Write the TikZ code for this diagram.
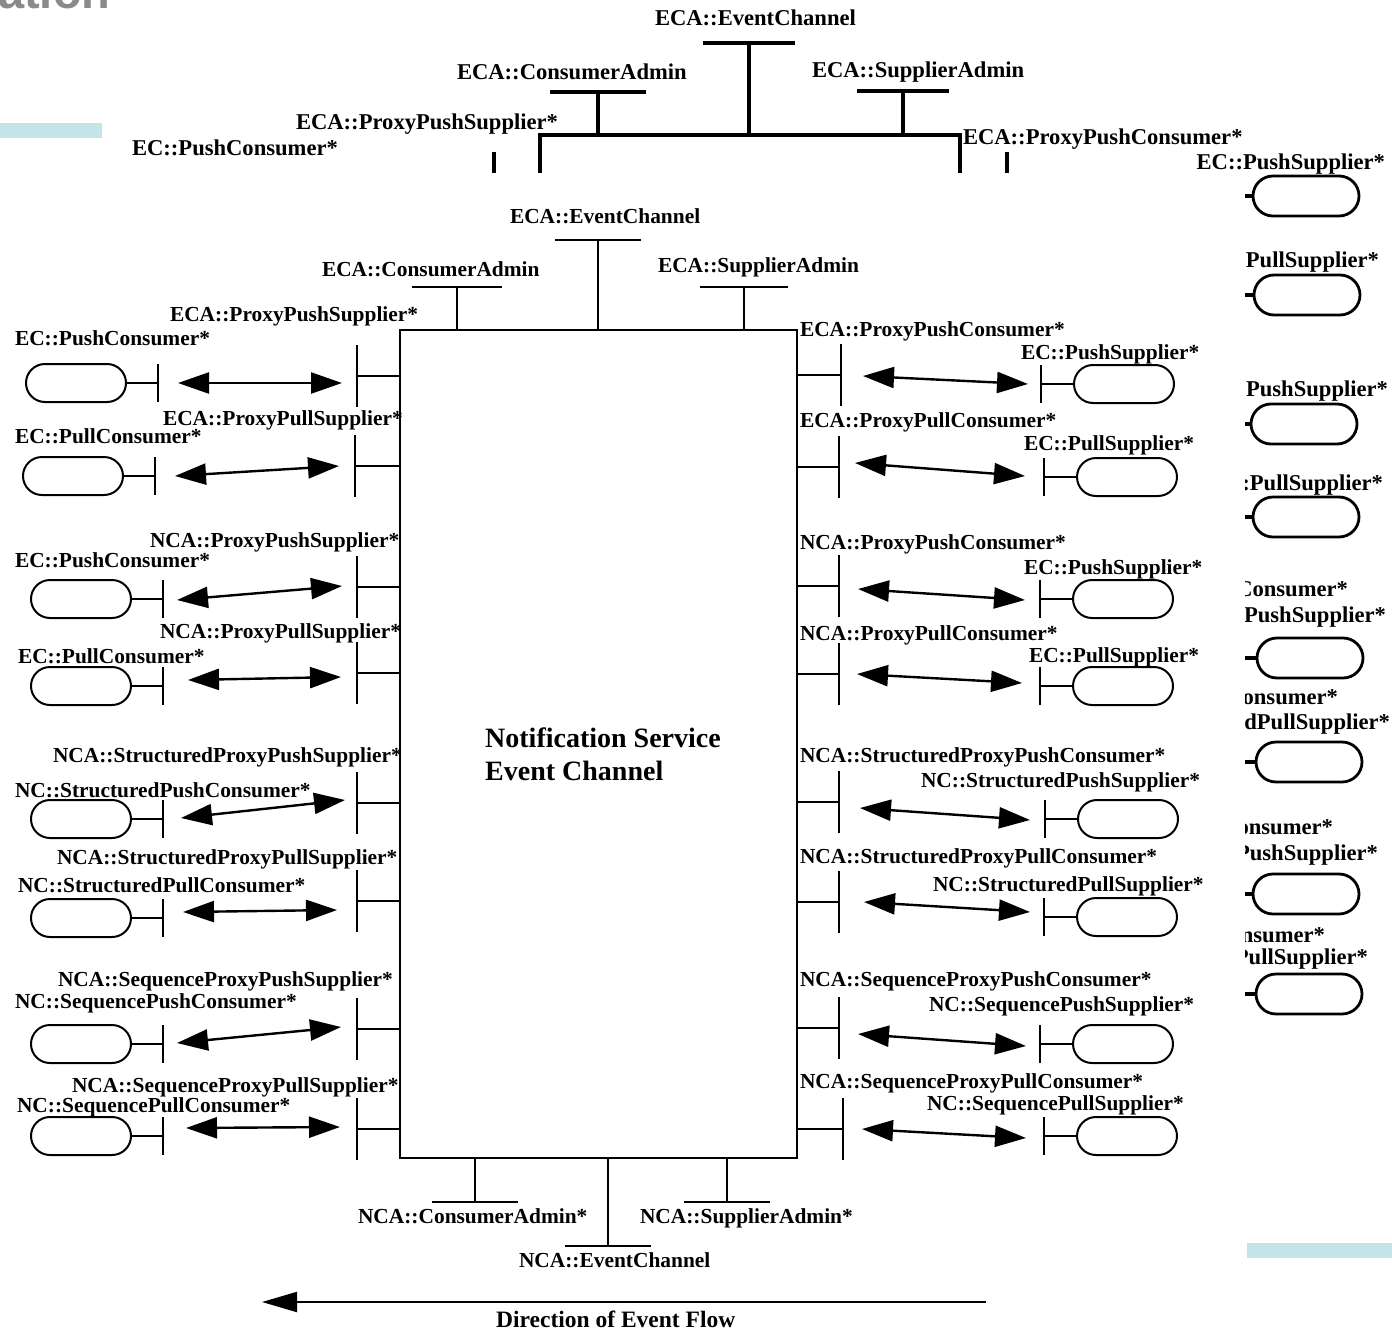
\documentclass[tikz,border=0pt]{standalone}
\usepackage{fontspec}
\setmainfont{Liberation Serif}
\newfontfamily\slidesans{Liberation Sans}
\usetikzlibrary{arrows.meta,shapes.misc}
\definecolor{slidecyan}{HTML}{C4E5E8}
\definecolor{slidegray}{HTML}{8A8A8A}
\newcommand\lblfont{\fontsize{21.4}{25}\selectfont\bfseries}
\newcommand\toplblfont{\fontsize{22.6}{27}\selectfont\bfseries}
\tikzset{
  lbl/.style={inner sep=0pt, outer sep=0pt, font=\lblfont, anchor=base west},
  toplbl/.style={inner sep=0pt, outer sep=0pt, font=\toplblfont, anchor=base west},
  toplblr/.style={toplbl, anchor=base east},
  link/.style={line width=2pt},
  toplink/.style={line width=3.2pt},
  capsule/.style={draw, rounded rectangle, line width=2pt, minimum width=100pt,
    minimum height=38pt, inner sep=0pt, outer sep=0pt},
  bigcapsule/.style={capsule, line width=2.8pt, minimum width=106pt, minimum height=40pt},
  flow/.style={line width=2.4pt,
    {Triangle[length=31pt,width=21pt]}-{Triangle[length=31pt,width=21pt]}},
}
\begin{document}
\begin{tikzpicture}[x=1pt,y=-1pt]
\useasboundingbox (0,0) rectangle (1392,1330);
\clip (0,0) rectangle (1392,1330);

% slide decorations
\node[anchor=base west, inner sep=0pt, text=slidegray,
      font=\slidesans\bfseries\fontsize{47}{50}\selectfont] (slidetitle) at (-2,9) {ation};
\fill[slidecyan] (0,123) rectangle (102,138);

% ---------- upper (enlarged) copy, cut off ----------
\node[toplbl] (tEClbl) at (655,25.5) {ECA::EventChannel};
\node[toplbl] (tCAlbl) at (457,79.5) {ECA::ConsumerAdmin};
\node[toplbl] (tSAlbl) at (812,77.5) {ECA::SupplierAdmin};
\node[toplbl] (tPPSlbl) at (296,129.5) {ECA::ProxyPushSupplier*};
\node[toplbl] (tPClbl) at (132,155.5) {EC::PushConsumer*};
\node[toplbl] (tPPClbl) at (963,144.5) {ECA::ProxyPushConsumer*};
\coordinate (tboxNW) at (540,135);
\coordinate (tboxNE) at (960,135);
\coordinate (tEC) at (749,43);
\coordinate (tCA) at (598,92);
\coordinate (tSA) at (903,91);
\draw[toplink] (tboxNW |- 0,173) -- (tboxNW) -- (tboxNE) -- (tboxNE |- 0,173);
\draw[toplink] (tEC |- tboxNW) -- (tEC);
\draw[toplink] ([xshift=-46pt]tEC) -- ([xshift=46pt]tEC);
\draw[toplink] (tCA |- tboxNW) -- (tCA);
\draw[toplink] ([xshift=-48pt]tCA) -- ([xshift=48pt]tCA);
\draw[toplink] (tSA |- tboxNW) -- (tSA);
\draw[toplink] ([xshift=-46pt]tSA) -- ([xshift=46pt]tSA);
\coordinate (tPPSbar) at (494,152);
\coordinate (tPPCbar) at (1007,152);
\draw[toplink] (tPPSbar) -- (tPPSbar |- 0,173);
\draw[line width=4pt] (tPPCbar) -- (tPPCbar |- 0,173);

% ---------- right (enlarged) copy, cut off ----------
\begin{scope}
\clip (1190,140) rectangle (1392,176) (1245,176) rectangle (1392,1030);
\foreach \k/\cx/\cy/\slab/\sx/\sy/\plab/\px/\py in {
  1/1306/196/EC::PushSupplier*/1385/169.5//0/0,
  2/1307/295/EC::PullSupplier*/1379/267.5//0/0,
  3/1304/424/EC::PushSupplier*/1388/396.5//0/0,
  4/1306/517/EC::PullSupplier*/1383/490.5//0/0,
  5/1310/658/NC::StructuredPushSupplier*/1386/622.5/NCA::StructuredProxyPushConsumer*/1348/596.5,
  6/1309/762/NC::StructuredPullSupplier*/1390/729.5/NCA::StructuredProxyPullConsumer*/1338/704.5,
  7/1306/894/NC::SequencePushSupplier*/1378/860.5/NCA::SequenceProxyPushConsumer*/1333/834.5,
  8/1309/994/NC::SequencePullSupplier*/1368/964.5/NCA::SequenceProxyPullConsumer*/1325/942.5}{
  \node[bigcapsule] (Scap\k) at (\cx,\cy) {};
  \coordinate (Stick\k) at (1238,\cy);
  \draw[toplink] (Stick\k) -- (Scap\k.west);
  \node[toplblr] (Sslbl\k) at (\sx,\sy) {\slab};
  \node[toplblr] (Splbl\k) at (\px,\py) {\plab};
}
\end{scope}

% ---------- main channel ----------
\fill[white] (0,176) rectangle (1244,1330);
\fill[slidecyan] (1247,1243) rectangle (1392,1258);
\node[draw, line width=2pt, minimum width=397pt, minimum height=828pt,
      inner sep=0pt, outer sep=0pt] (ch) at (598.5,744) {};
\node[anchor=base west, inner sep=0pt, align=left,
      font=\fontsize{28}{33}\selectfont\bfseries] (chtitle) at (485,780)
      {Notification Service\\Event Channel};

% admin interfaces above and below the channel
\node[lbl] (ecaEClbl) at (510,223) {ECA::EventChannel};
\node[lbl] (ecaCAlbl) at (322,276) {ECA::ConsumerAdmin};
\node[lbl] (ecaSAlbl) at (658,272) {ECA::SupplierAdmin};
\coordinate (ecaEC) at (598,240);
\coordinate (ecaCA) at (457,287);
\coordinate (ecaSA) at (744,287);
\foreach \c/\h in {ecaEC/43, ecaCA/45, ecaSA/44}{
  \draw[link] (\c |- ch.north) -- (\c);
  \draw[link] ([xshift=-\h pt]\c) -- ([xshift=\h pt]\c);
}
\node[lbl] (ncaCAlbl) at (358,1223) {NCA::ConsumerAdmin*};
\node[lbl] (ncaSAlbl) at (640,1223) {NCA::SupplierAdmin*};
\node[lbl] (ncaEClbl) at (519,1267) {NCA::EventChannel};
\coordinate (ncaCA) at (475,1202);
\coordinate (ncaSA) at (727,1202);
\coordinate (ncaEC) at (608,1246);
\foreach \c in {ncaCA, ncaSA, ncaEC}{
  \draw[link] (\c |- ch.south) -- (\c);
  \draw[link] ([xshift=-43pt]\c) -- ([xshift=43pt]\c);
}

% consumer side (left)
\foreach \i/\plab/\plx/\ply/\clab/\clx/\cly/\ty/\bx/\cy/\cbx/\ax/\ay/\bxx/\byy in {
  1/ECA::ProxyPushSupplier*/170/314/EC::PushConsumer*/15/338/376/357/383/158/178/383/342/383,
  2/ECA::ProxyPullSupplier*/163/418/EC::PullConsumer*/15/436/466/355/476/155/175/476/339/466,
  3/NCA::ProxyPushSupplier*/150/540/EC::PushConsumer*/15/560/587/357/599/163/177/600/342/586,
  4/NCA::ProxyPullSupplier*/160/631/EC::PullConsumer*/18/656/673/357/686/163/188/680/341/677,
  5/NCA::StructuredProxyPushSupplier*/53/755/NC::StructuredPushConsumer*/15/790/803/357/819/163/181/818/345/800,
  6/NCA::StructuredProxyPullSupplier*/57/857/NC::StructuredPullConsumer*/18/885/901/357/918/163/183/912/337/910,
  7/NCA::SequenceProxyPushSupplier*/58/979/NC::SequencePushConsumer*/15/1001/1029/357/1044/163/177/1043/341/1027,
  8/NCA::SequenceProxyPullSupplier*/72/1085/NC::SequencePullConsumer*/17/1105/1129/357/1136/163/186/1128/340/1127}{
  \node[lbl] (Lplbl\i) at (\plx,\ply+7) {\plab};
  \node[lbl] (Lclbl\i) at (\clx,\cly+7) {\clab};
  \coordinate (Lpt\i) at (\bx,\ty);
  \draw[link] (ch.west |- Lpt\i) -- (Lpt\i);
  \draw[link] ([yshift=-31pt]Lpt\i) -- ([yshift=31pt]Lpt\i);
  \node[capsule] (Lcap\i) at (\cbx-82,\cy) {};
  \coordinate (Lct\i) at (\cbx,\cy);
  \draw[link] (Lcap\i.east) -- (Lct\i);
  \draw[link] ([yshift=-19pt]Lct\i) -- ([yshift=19pt]Lct\i);
  \coordinate (La\i) at (\ax,\ay);
  \coordinate (Lb\i) at (\bxx,\byy);
  \draw[flow] (La\i) -- (Lb\i);
}

% supplier side (right)
\foreach \i/\plab/\plx/\ply/\slab/\slx/\sly/\ty/\bx/\cy/\sbx/\ax/\ay/\bxx/\byy in {
  1/ECA::ProxyPushConsumer*/800/329/EC::PushSupplier*/1021/352/375/841/384/1041/863/376/1028/384,
  2/ECA::ProxyPullConsumer*/800/420/EC::PullSupplier*/1024/443/467/839/477/1044/855/463/1025/476,
  3/NCA::ProxyPushConsumer*/800/542/EC::PushSupplier*/1024/567/586/839/599/1040/858/589/1025/600,
  4/NCA::ProxyPullConsumer*/800/633/EC::PullSupplier*/1029/655/674/839/686/1040/857/674/1022/683,
  5/NCA::StructuredProxyPushConsumer*/800/755/NC::StructuredPushSupplier*/921/780/802/839/819/1045/860/808/1030/820,
  6/NCA::StructuredProxyPullConsumer*/800/856/NC::StructuredPullSupplier*/933/884/902/839/917/1044/864/902/1030/912,
  7/NCA::SequenceProxyPushConsumer*/800/979/NC::SequencePushSupplier*/929/1004/1028/839/1044/1040/858/1034/1026/1046,
  8/NCA::SequenceProxyPullConsumer*/800/1081/NC::SequencePullSupplier*/927/1103/1129/843/1136/1044/862/1129/1026/1138}{
  \node[lbl] (Rplbl\i) at (\plx,\ply+7) {\plab};
  \node[lbl] (Rslbl\i) at (\slx,\sly+7) {\slab};
  \coordinate (Rpt\i) at (\bx,\ty);
  \draw[link] (ch.east |- Rpt\i) -- (Rpt\i);
  \draw[link] ([yshift=-31pt]Rpt\i) -- ([yshift=31pt]Rpt\i);
  \node[capsule] (Rcap\i) at (\sbx+83,\cy) {};
  \coordinate (Rst\i) at (\sbx,\cy);
  \draw[link] (Rst\i) -- (Rcap\i.west);
  \draw[link] ([yshift=-19pt]Rst\i) -- ([yshift=19pt]Rst\i);
  \coordinate (Ra\i) at (\ax,\ay);
  \coordinate (Rb\i) at (\bxx,\byy);
  \draw[flow] (Ra\i) -- (Rb\i);
}

% direction of event flow
\coordinate (flowstart) at (986,1302);
\coordinate (flowend) at (262,1302);
\draw[line width=2pt, -{Triangle[length=35pt,width=20pt]}] (flowstart) -- (flowend);
\node[anchor=base west, inner sep=0pt, font=\fontsize{23.5}{27}\selectfont\bfseries]
  (flowlbl) at (496,1327) {Direction of Event Flow};
\end{tikzpicture}
\end{document}
